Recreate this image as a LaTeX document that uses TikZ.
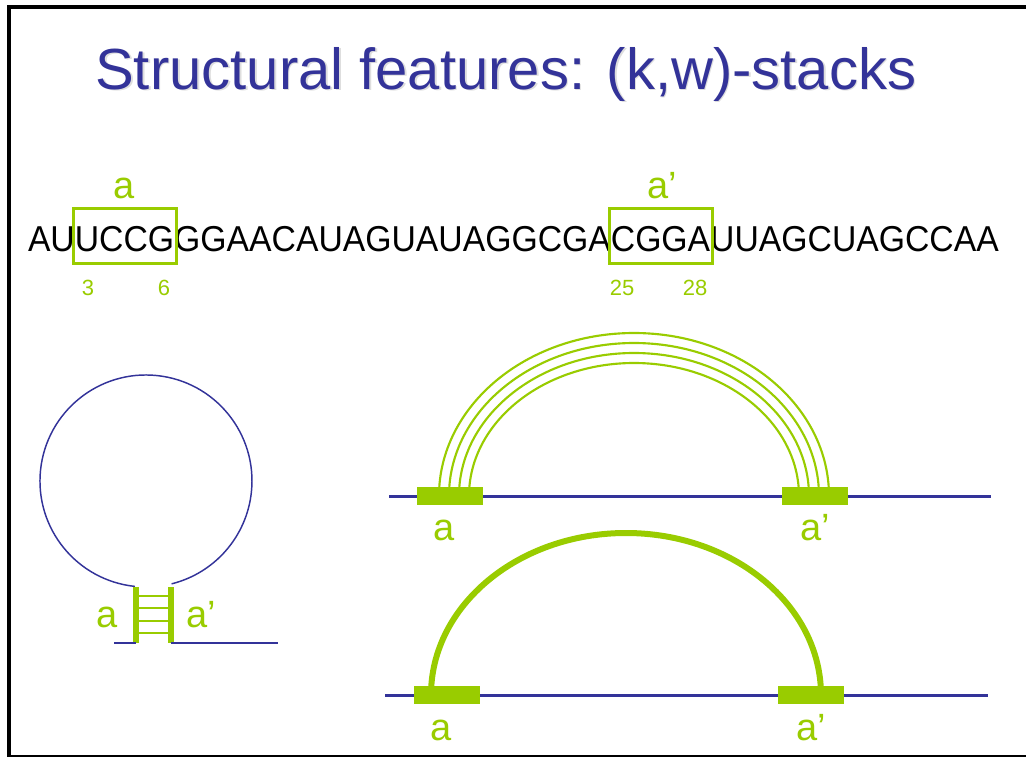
\documentclass[tikz,border=0pt]{standalone}
\usepackage{fontspec}
\setmainfont{Liberation Sans}
\usetikzlibrary{calc}
\definecolor{navy}{RGB}{51,51,153}
\definecolor{lime}{RGB}{153,204,0}
\newcommand{\seqtext}[1]{\scalebox{0.937}[1]{#1}}
\tikzset{
  seq/.style={inner sep=0pt, outer sep=0pt, font=\fontsize{27}{32}\selectfont, text=black},
  lbl/.style={inner sep=0pt, outer sep=0pt, font=\fontsize{28.5}{34}\selectfont, text=lime},
  num/.style={inner sep=0pt, outer sep=0pt, font=\fontsize{16.5}{20}\selectfont, text=lime},
  boxline/.style={draw=lime, line width=2.25pt},
  strand/.style={draw=navy, line width=2.25pt},
  thinstrand/.style={draw=navy, line width=1.1pt},
  site/.style={fill=lime, draw=none, inner sep=0pt, minimum width=49.5pt, minimum height=13.5pt},
  thinarc/.style={draw=lime, line width=1.6pt},
  thickarc/.style={draw=lime, line width=4.5pt},
  stemline/.style={draw=lime, line width=4.5pt},
  rung/.style={draw=lime, line width=1.9pt},
}
\begin{document}
\begin{tikzpicture}[x=0.75pt, y=-0.75pt]
\useasboundingbox (0,0) rectangle (1026,757);
% frame
\fill[black] (7,5) rectangle (1026,8.5);
\fill[black] (7,5) rectangle (11,757);
\fill[black] (7,755) rectangle (1026,757);
% title
\node[inner sep=0pt, anchor=base west, font=\fontsize{43.5}{52}\selectfont, text=black!13] at (96.8,90.8) {Structural features: (k,w)-stacks};
\node[inner sep=0pt, anchor=base west, font=\fontsize{43.5}{52}\selectfont, text=navy] (title) at (95,89) {Structural features: (k,w)-stacks};
% sequence
\node[seq, anchor=base west] (s1) at (28,251) {\seqtext{AU}};
\node[seq, anchor=base west] (s2) at (s1.base east) {\seqtext{UCCG}};
\node[seq, anchor=base west] (s3) at (s2.base east) {\seqtext{GGAACAUAGUAUAGGCGA}};
\node[seq, anchor=base west] (s4) at (s3.base east) {\seqtext{CGGA}};
\node[seq, anchor=base west] (s5) at (s4.base east) {\seqtext{UUAGCUAGCCAA}};
\draw[boxline] ($(s2.base west)+(-1,-43)$) rectangle ($(s2.base east)+(2.5,12)$);
\draw[boxline] ($(s4.base west)+(-1,-43)$) rectangle ($(s4.base east)+(2.5,12)$);
\node[lbl, anchor=base] (la) at ($(s2.base)+(0,-53)$) {a};
\node[lbl, anchor=base west] (lap) at ($(s4.base)+(-13,-53)$) {a’};
\node[num, anchor=base] (n3) at (88,295.5) {3};
\node[num, anchor=base] (n6) at (164,295.5) {6};
\node[num, anchor=base] (n25) at (622,295.5) {25};
\node[num, anchor=base] (n28) at (695,295.5) {28};
% stem-loop
\draw[thinstrand] (134.9,586.4) arc[start angle=96, end angle=436, radius=106];
\draw[stemline] (136,587) -- (136,643);
\draw[stemline] (170.5,587) -- (170.5,643);
\foreach \yy in {596,608,621,633} \draw[rung] (136,\yy) -- (170.5,\yy);
\draw[thinstrand] (114,643) -- (136,643);
\draw[thinstrand] (170.5,643) -- (278,643);
\node[lbl, anchor=base] (sa) at (107.5,627) {a};
\node[lbl, anchor=base west] (sap) at (186,627) {a’};
% upper arc diagram
\draw[strand] (389,496) coordinate (u0) -- (991,496) coordinate (u9);
\foreach \k in {0,1,2,3} {
  \pgfmathsetmacro{\rx}{195-10*\k}
  \pgfmathsetmacro{\ry}{163-10*\k}
  \draw[thinarc] (634-\rx,496) arc[start angle=180, end angle=360, x radius=\rx, y radius=\ry];
}
\node[site] (ua) at (450,496) {};
\node[site] (ub) at (815,496) {};
\node[lbl, anchor=base] (ula) at (444,540) {a};
\node[lbl, anchor=base west] (ulb) at (800,540) {a’};
% lower arc diagram
\draw[strand] (385,695) coordinate (w0) -- (988,695) coordinate (w9);
\draw[thickarc] (431,695) arc[start angle=180, end angle=360, x radius=195, y radius=162];
\node[site] (wa) at (446.5,695) {};
\node[site] (wb) at (811,695) {};
\node[lbl, anchor=base] (wla) at (441,740) {a};
\node[lbl, anchor=base west] (wlb) at (796,740) {a’};
\end{tikzpicture}
\end{document}
